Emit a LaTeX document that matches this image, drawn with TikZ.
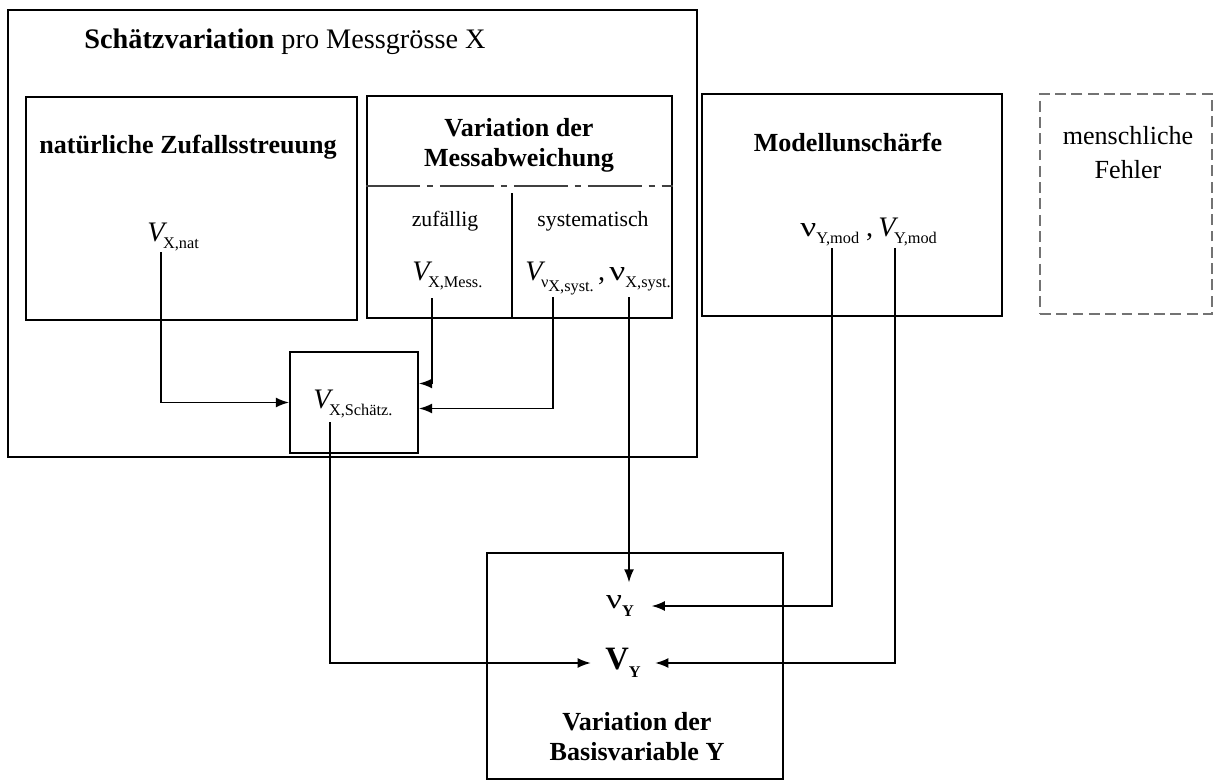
\documentclass[tikz,border=0pt]{standalone}
\usepackage{fontspec}
\usepackage{graphicx}
\setmainfont{Liberation Serif}
\usetikzlibrary{arrows.meta,calc}
\newcommand{\px}{0.46pt}
\newcommand{\idx}[1]{\raisebox{-0.55ex}{\fontsize{7.5}{8}\selectfont #1}}
\newcommand{\vv}{\textit{V}\kern-2pt}
\newcommand{\nuu}{\scalebox{1.25}[1]{ν}}

\begin{document}
\begin{tikzpicture}[x=\px,y=-\px,
  every node/.style={font=\fontsize{12}{14}\selectfont},
  box/.style={draw, line width=0.9pt, inner sep=0pt},
  head/.style={font=\fontsize{12}{13.8}\selectfont\bfseries, align=center},
  small/.style={font=\fontsize{10}{12}\selectfont},
  var/.style={inner sep=0pt, anchor=base west, font=\fontsize{13}{15}\selectfont},
  arr/.style={line width=0.7pt, -{Latex[length=6pt,width=4.5pt]}}]
\useasboundingbox (0,0) rectangle (1215,782);
% boxes
\foreach \n/\x/\y/\w/\h in {outer/352.5/233.5/689/447, nat/191.5/208.5/331/223,
  mess/519.5/207/305/222, schaetz/354/402.5/128/101,
  modell/852/205/300/222, basis/635/666/296/226} {
\node[box, minimum width=\w*\px, minimum height=\h*\px] (\n) at (\x,\y) {};
}
\node[box, draw=black!55, line width=0.6pt, dash pattern=on 5pt off 2.5pt,
  minimum width=172*\px, minimum height=220*\px] (mensch) at (1126,204) {};
\draw[line width=0.8pt, black!75, dash pattern=on 25pt off 3pt on 3pt off 3pt]
  ($(mess.north west)+(0,91)$) -- ($(mess.north east)+(0,91)$);
\draw[line width=0.8pt] (512,193) -- (512,318);

% titles
\node[font=\fontsize{13}{15}\selectfont] (titel) at (285,42) {\textbf{Schätzvariation} pro Messgrösse X};
\node[head] (nattitel) at (188,147) {natürliche Zufallsstreuung};
\node[head] (messtitel) at (519,145) {Variation der\\Messabweichung};
\node[small] (zuf) at (445,221) {zufällig};
\node[small] (sys) at (593,221) {systematisch};
\node[head] (modelltitel) at (848,142) {Modellunschärfe};
\node[align=center, font=\fontsize{12}{15.6}\selectfont] (menschtitel) at (1128,153) {menschliche\\Fehler};
\node[head] (basistitel) at (637,737) {Variation der\\Basisvariable Y};

% variables
\node[var] (vnat) at (147,241) {\vv\idx{X,nat}};
\node[var] (vmess) at (412,280) {\vv\idx{X,Mess.}};
\node[var] (vnusyst) at (525,280) {\vv\idx{ν\idx{X,syst.}}\kern2pt,};
\node[var] (nusyst) at (609,280) {\nuu\idx{X,syst.}};
\node[var] (vxs) at (313,408) {\vv\idx{X,Schätz.}};
\node[var] (nuymod) at (800,236) {\nuu\idx{Y,mod} ,};
\node[var] (vymod) at (878,236) {\vv\idx{Y,mod}};
\node[font=\fontsize{13}{15}\selectfont, inner xsep=8pt, inner ysep=6pt] (nuy) at (620,606) {\nuu\idx{\textbf{Y}}};
\node[font=\fontsize{15}{17}\selectfont, inner xsep=6.5pt] (vy) at (623,663) {\textbf{V}\idx{\textbf{Y}}};

\coordinate (vnat-o) at ($(vnat.base west)+(14,11)$);
\coordinate (vmess-o) at ($(vmess.base west)+(20,18)$);
\coordinate (vnusyst-o) at ($(vnusyst.base west)+(28,17)$);
\coordinate (nusyst-o) at ($(nusyst.base west)+(20,17)$);
\coordinate (vxs-o) at ($(vxs.base west)+(17,14)$);
\coordinate (nuymod-o) at ($(nuymod.base west)+(32,12)$);
\coordinate (vymod-o) at ($(vymod.base west)+(17,12)$);

% connectors
\draw[arr] (vnat-o) |- (schaetz.west);
\draw[arr] (vmess-o) |- ($(schaetz.east)+(0,-19)$);
\draw[arr] (vnusyst-o) |- ($(schaetz.east)+(0,6)$);
\draw[arr] (nusyst-o) -- (nusyst-o |- nuy.north);
\draw[arr] (vxs-o) |- (vy.west);
\draw[arr] (nuymod-o) |- (nuy.east);
\draw[arr] (vymod-o) |- (vy.east);
\end{tikzpicture}
\end{document}
